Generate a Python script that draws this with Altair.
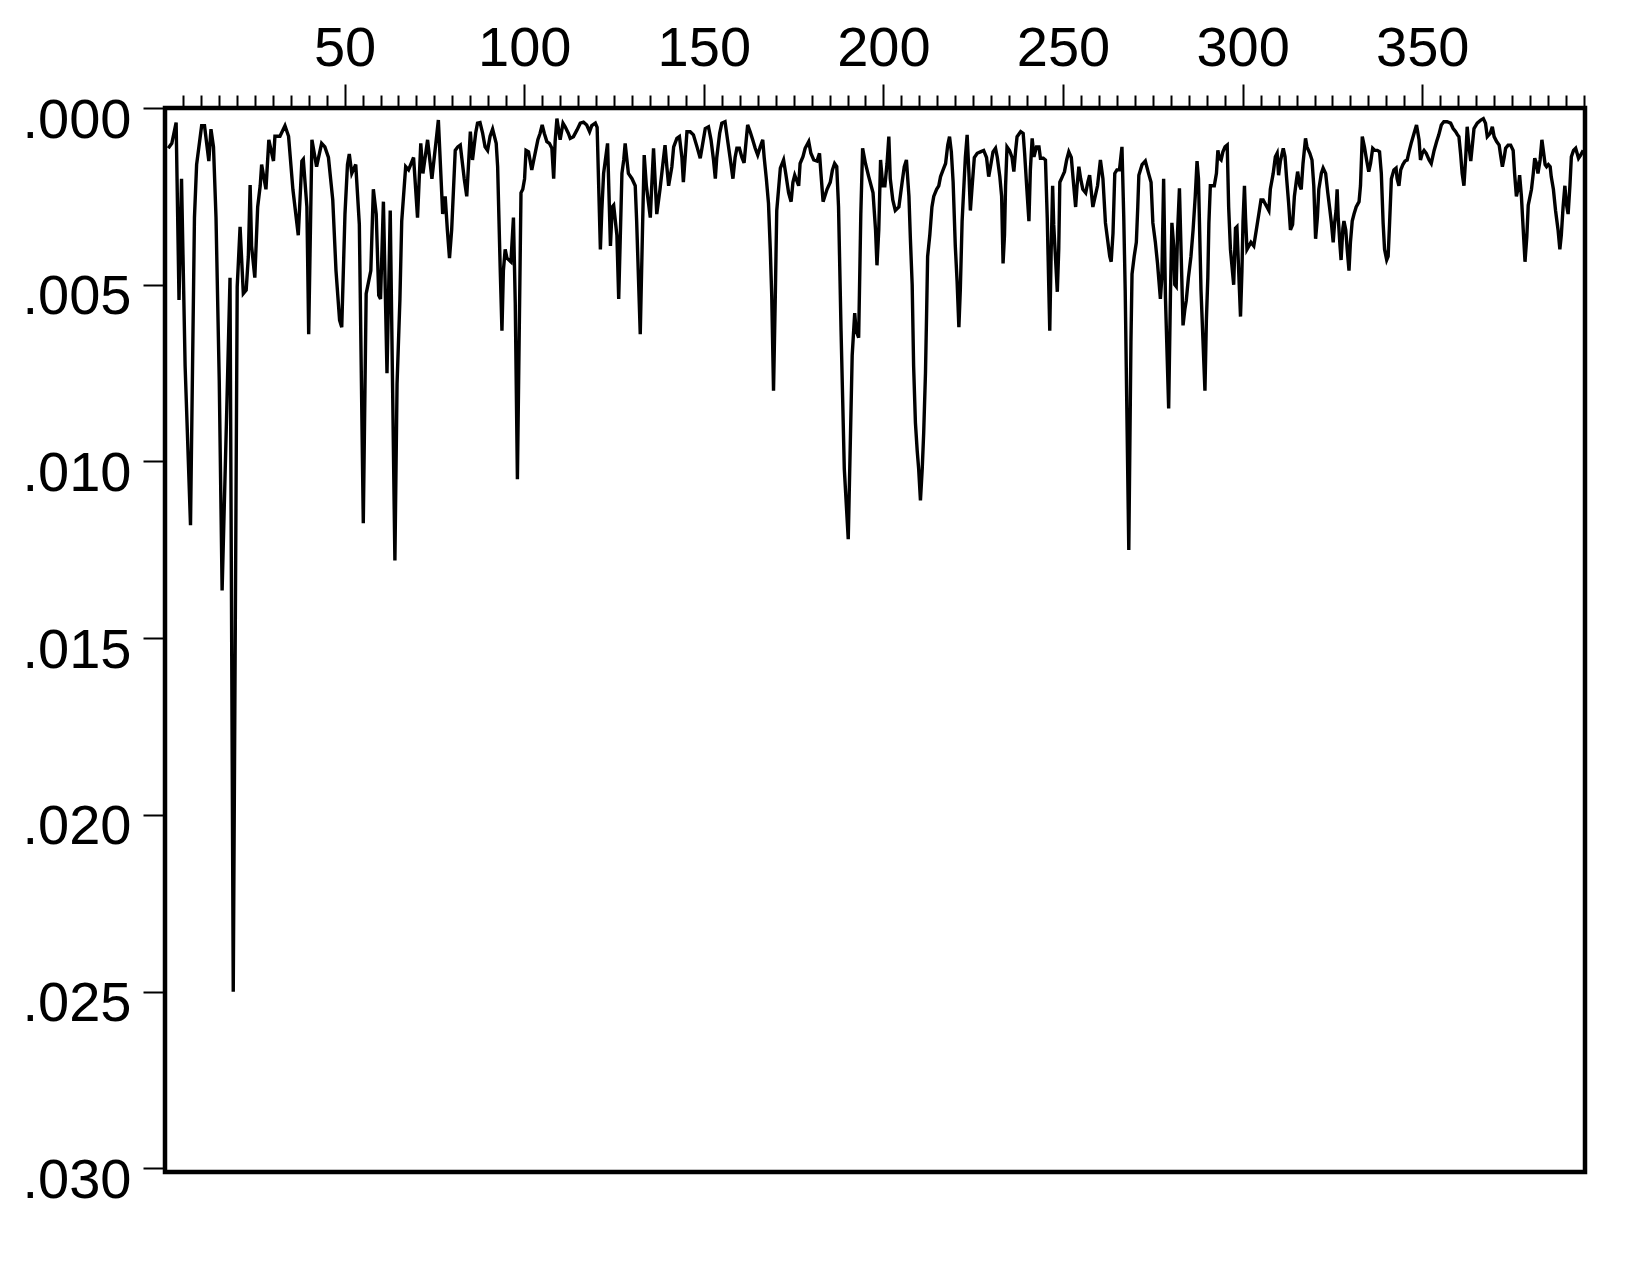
import altair as alt
import pandas as pd

# x positions (index) and values (in thousandths)
x_vals = [0.9,1.9,3.1,3.9,4.6,5.6,7.1,8.2,8.8,10.2,11,12.2,12.8,13.5,14.2,15.1,15.9,17.2,18.1,19,20.1,20.9,21.8,22.6,23.2,23.7,24.1,25,25.8,26.5,26.9,28.1,28.9,30.2,30.6,32,33.4,34.4,35.6,37.1,38.1,38.5,39.5,40,40.9,42.2,43.6,44.5,45.5,46.7,47.6,48.6,49.2,50.1,50.8,51.3,52,53.1,54.1,55.2,56,57.3,58,58.8,59.5,60.0,60.8,61.8,62.7,64.0,64.6,65.4,65.9,67,67.8,69.2,70.3,71.2,71.8,73.1,74.3,75.5,76.1,77.3,78,78.6,79.2,79.8,80.8,81.5,82.2,83.3,84,85,85.6,86.5,87,87.7,88.4,89.1,89.8,90.5,91.2,92.2,92.6,93.3,93.8,94.2,94.7,95.2,96.3,97,97.5,98.1,99.1,99.6,100.1,100.5,101.2,102.1,102.6,103.2,103.8,104.4,105,105.6,106.3,107,107.7,108.2,108.6,109.1,110,110.8,111.4,112.3,112.8,113.7,114.7,115.6,116.5,117.4,118.2,118.8,119.8,120.3,120.7,121.2,121.6,122.1,123.2,124,124.5,124.9,125.8,126.3,127.2,127.7,128.1,129,130,130.9,131.3,132.3,133,133.4,134,135.1,135.5,136,136.9,137.8,138.8,139.2,139.7,140.2,141.1,141.6,142.5,143.2,143.9,144.3,144.8,145.3,146.2,147.1,148.1,149,149.7,150.4,151.3,152,152.7,153.2,153.6,154.4,155,155.9,156.6,157.3,158.1,158.7,159.2,159.9,160.6,161.2,161.8,162.2,162.9,163.6,164.3,165,165.7,166.4,166.8,167.4,168,168.5,168.9,169.4,169.9,170.3,170.8,171.3,172.2,172.8,173.6,174.3,174.8,175.3,176.4,176.8,177.6,178.2,179.2,179.8,180.6,181.5,182.2,182.6,183.2,184.3,185.2,185.8,186.4,187,187.5,188.2,189.1,190.2,191.3,192,192.4,193.1,193.7,194.2,195,195.9,197.1,197.8,198.2,198.7,199.2,199.8,200.4,201,201.5,201.9,202.6,203.3,204.3,205.2,205.8,206.4,207.1,207.5,208,208.4,208.9,209.4,209.8,210.3,210.8,211.2,211.7,212,212.3,212.9,213.5,214,214.8,215.4,215.9,216.6,217.3,217.9,218.4,218.9,219.4,220,220.5,221,221.4,221.9,222.4,222.8,223.3,223.8,224.2,224.7,225.3,226.1,227,227.9,228.7,229.3,229.8,230.5,231.2,231.7,232.4,232.9,233.3,233.7,234,234.4,235.1,235.8,236.3,236.8,237.2,238.2,238.9,239.3,239.8,240.5,240.9,241.4,241.9,242.6,243.3,243.7,244.5,245.1,245.6,246,246.3,246.7,247.1,247.4,248.4,248.8,249.1,249.8,250.4,251,251.6,252.3,252.8,253.5,253.9,254.4,254.9,255.5,256.3,256.9,257.4,258.3,259.6,260.4,261.1,261.8,263,263.4,263.9,264.4,265,265.7,266.4,266.9,267.3,268.3,268.9,269.2,269.8,270.4,270.8,271.1,272,272.9,273.8,274.5,275,275.7,276.3,277.1,277.5,278,278.5,279.4,279.9,280.3,280.8,281.1,281.5,281.9,282.4,282.7,283.4,283.9,284.3,284.9,285.6,286.2,286.8,287.3,287.7,288.4,289.5,289.9,290.3,290.6,291,292.1,292.7,293.1,293.5,294,294.5,295.1,295.7,296.1,296.6,297.5,298,298.4,299.4,299.8,300.1,300.5,300.8,301.2,302.3,303.1,303.8,304.5,305.1,305.7,307.3,307.7,308.5,309.1,309.6,310,310.5,311.3,311.8,312.2,312.8,313.3,313.9,314.4,314.9,315.3,315.9,316.3,316.8,317.5,317.9,318.7,319.3,319.8,320.3,320.8,321.2,321.9,322.4,323.1,323.7,324.3,324.7,325.2,325.6,326,326.3,326.6,327.1,327.4,327.9,328.2,328.7,329.1,329.6,330,330.5,331,331.6,332.4,332.8,333.3,333.9,334.5,335.1,335.6,336.2,336.8,337.5,338.1,338.6,339.1,339.5,340.1,340.5,340.9,341.4,342.1,342.7,343,343.5,344,344.6,345.2,345.8,346.3,346.9,347.7,348.4,349.1,349.5,350,350.5,351.1,351.9,352.5,353.3,354,354.6,355.3,356,356.9,357.9,358.6,359.3,359.8,360.2,360.7,361.1,361.6,362.1,362.5,363,363.5,363.9,364.4,365.3,366.3,367,367.6,368.1,368.9,369.5,370,370.7,371.4,371.8,372.3,372.8,373.2,373.9,374.6,375.3,375.7,376.2,376.7,377.1,377.6,378,378.6,379.1,379.5,380,380.4,380.9,381.3,381.8,382.2,382.8,383.3,383.7,384.2,384.6,385.1,385.6,385.9,386.5,387.1,387.8,388.3,388.7,389.2,389.7,390.1,390.6,391.1,391.5,392.1,392.7,393.5,394.1,394.8]

v_thousandths = [1.14,1.0,0.41,5.43,2.0,7.3,11.8,3.1,1.6,0.5,0.5,1.5,0.6,1.1,3.1,7.7,13.65,8.5,4.8,25.0,5.06,3.36,5.25,5.15,4.2,2.18,3.9,4.8,2.8,2.2,1.6,2.3,0.9,1.5,0.8,0.8,0.5,0.8,2.3,3.6,1.5,1.45,2.8,6.4,0.9,1.66,1.0,1.1,1.4,2.6,4.6,6.0,6.2,3.0,1.6,1.3,1.85,1.6,3.3,11.75,5.25,4.6,2.3,3.0,5.3,5.4,2.65,7.5,2.9,12.8,7.8,5.4,3.2,1.66,1.75,1.4,3.1,1.0,1.85,0.9,2.0,0.9,0.34,3.0,2.5,3.45,4.25,3.45,1.2,1.1,1.05,2.0,2.5,0.67,1.47,0.7,0.43,0.41,0.7,1.1,1.2,0.8,0.6,1.0,1.66,4.5,6.3,4.6,4.0,4.25,4.35,3.1,5.5,10.5,2.4,2.3,2.0,1.2,1.24,1.75,1.5,1.2,0.9,0.72,0.48,0.72,0.95,1.0,1.14,2.0,0.95,0.3,0.9,0.43,0.53,0.72,0.86,0.81,0.62,0.43,0.4,0.48,0.67,0.5,0.43,0.55,2.1,4.0,2.9,1.85,1.0,3.9,2.8,2.75,3.6,5.4,1.85,1.47,1.0,1.85,2.0,2.2,3.2,6.4,3.1,1.33,2.2,3.1,2.2,1.14,3.0,2.3,1.4,1.05,1.66,2.2,1.66,1.1,0.86,0.81,1.4,2.1,1.4,0.67,0.67,0.76,1.1,1.42,1.0,0.58,0.53,0.9,1.47,2.0,1.4,0.72,0.43,0.39,0.9,1.4,2.0,1.4,1.14,1.14,1.4,1.55,0.9,0.48,0.67,0.9,1.14,1.33,1.1,0.9,1.4,2.0,2.7,4.0,5.3,8.0,5.3,2.9,2.3,1.7,1.47,1.85,2.4,2.65,2.1,1.9,2.2,1.57,1.38,1.14,0.95,1.28,1.47,1.5,1.28,1.85,2.65,2.3,2.1,1.75,1.57,1.66,2.8,6.3,10.2,12.2,7.0,5.8,6.3,6.5,3.0,1.14,1.57,1.94,2.4,3.45,4.45,3.45,1.47,2.2,2.2,1.57,0.81,2.0,2.6,2.9,2.8,2.1,1.66,1.47,2.5,3.7,5.0,7.3,8.9,9.7,10.2,11.1,10.2,9.2,7.5,5.9,4.2,3.6,2.8,2.5,2.3,2.2,1.94,1.75,1.57,1.05,0.81,1.24,2.1,3.9,4.9,6.2,5.15,3.2,2.2,1.4,0.76,1.85,2.9,2.2,1.4,1.28,1.24,1.2,1.4,1.94,1.66,1.24,1.14,1.4,1.94,2.5,4.4,3.6,2.2,1.1,1.2,1.4,1.8,1.2,0.81,0.67,0.72,1.28,2.1,3.2,1.75,0.86,1.38,1.1,1.1,1.42,1.42,1.47,3.1,4.96,6.3,4.0,2.2,3.3,5.2,4.0,2.1,1.94,1.8,1.47,1.24,1.4,2.0,2.8,2.2,1.66,2.0,2.3,2.4,2.1,1.9,2.8,2.2,1.47,2.0,3.25,4.2,4.35,3.55,1.85,1.75,1.75,1.1,3.1,5.15,12.5,6.6,4.7,4.2,3.8,2.8,1.9,1.6,1.5,1.85,2.1,3.25,3.8,4.4,5.4,4.8,2.0,5.35,8.5,5.25,3.25,3.9,5.0,5.05,3.45,2.27,3.45,6.15,5.7,5.45,4.8,4.2,3.45,2.5,1.5,2.0,5.15,8.0,6.0,4.8,3.25,2.2,2.2,1.85,1.2,1.42,1.47,1.24,1.1,1.05,2.8,4.0,5.0,3.4,3.36,5.9,4.6,3.2,2.2,3.1,4.0,3.8,3.9,3.45,3.0,2.6,2.6,2.9,2.3,1.85,1.38,1.28,1.9,1.5,1.14,1.38,1.94,2.7,3.45,3.3,2.5,2.1,1.8,2.2,2.3,1.57,0.86,1.1,1.28,1.47,2.2,3.7,3.1,2.3,1.85,1.7,1.85,2.4,2.9,3.25,3.8,3.25,2.9,2.3,3.1,3.9,4.3,3.4,3.2,3.45,4.0,4.6,3.8,3.2,3.0,2.8,2.65,2.2,0.81,1.1,1.47,1.8,1.57,1.14,1.2,1.2,1.24,1.85,3.25,4.0,4.3,4.2,3.25,2.0,1.75,1.7,2.0,2.2,1.75,1.6,1.5,1.47,1.24,1.0,0.72,0.48,0.9,1.47,1.28,1.2,1.28,1.47,1.57,1.2,0.95,0.76,0.48,0.39,0.39,0.43,0.58,0.67,0.76,0.81,1.33,1.85,2.2,1.38,0.53,1.1,1.5,1.1,0.58,0.43,0.34,0.3,0.43,0.81,0.72,0.53,0.81,0.95,1.05,1.33,1.66,1.4,1.14,1.05,1.05,1.2,1.85,2.5,2.27,1.9,2.5,3.25,4.35,3.65,2.75,2.5,2.3,1.85,1.42,1.57,1.85,1.47,0.9,1.2,1.6,1.66,1.6,1.66,1.94,2.3,2.9,3.45,4.0,3.6,2.8,2.2,2.7,3.0,2.2,1.38,1.2,1.14,1.42,1.33,1.2]

x_tick_values = list(range(5, 396, 5))
y_tick_values = [0.0, 0.005, 0.010, 0.015, 0.020, 0.025, 0.030]

n = min(len(x_vals), len(v_thousandths))
df = pd.DataFrame({
    "x": x_vals[:n],
    "y": [v / 1000.0 for v in v_thousandths[:n]],
    "order": list(range(n)),
})

FONT = "Liberation Sans"

chart = alt.Chart(df).mark_line(color="black", strokeWidth=3.4, strokeJoin="miter").encode(
    x=alt.X("x:Q",
            scale=alt.Scale(domain=[0, 395.3], nice=False, zero=False),
            axis=alt.Axis(orient="top", values=x_tick_values, title=None,
                          domain=False, grid=False,
                          labelExpr="datum.value % 50 === 0 ? datum.label : ''",
                          tickSize=alt.condition("datum.value % 50 === 0", alt.value(24), alt.value(13)),
                          tickWidth=2, tickColor="black",
                          labelFont=FONT, labelFontSize=56, labelColor="black",
                          labelPadding=7, labelOverlap=False, labelFlush=False,
                          labelBound=False, format="d")),
    y=alt.Y("y:Q",
            scale=alt.Scale(domain=[0, 0.0301], nice=False, zero=False, reverse=True),
            axis=alt.Axis(orient="left", values=y_tick_values, title=None,
                          domain=False, grid=False,
                          labelExpr="replace(format(datum.value, '.3f'), '0.', '.')",
                          tickSize=22, tickWidth=2, tickColor="black",
                          labelFont=FONT, labelFontSize=56, labelColor="black",
                          labelPadding=12, labelOffset=12, labelOverlap=False,
                          labelFlush=False, labelBound=False)),
    order="order:Q",
).properties(
    width=1420,
    height=1064,
    background="white",
    autosize=alt.AutoSizeParams(type="none"),
    padding={"left": 157, "top": 100, "right": 30, "bottom": 60},
).configure_view(
    stroke="black", strokeWidth=4.5
)

chart.save("out.html", embed_options={"renderer": "svg", "actions": False})
